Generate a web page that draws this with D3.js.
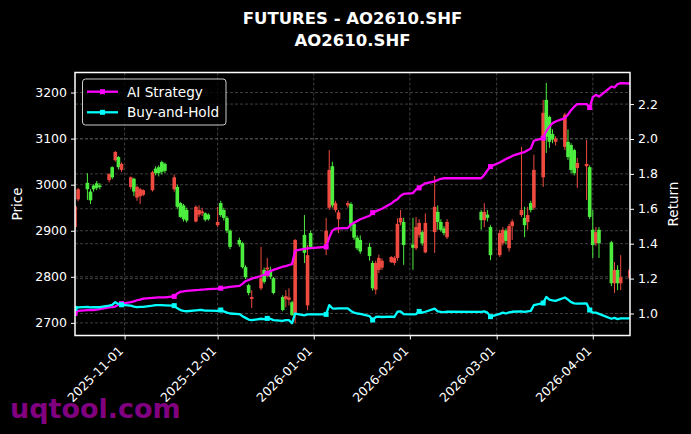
<!DOCTYPE html>
<html><head><meta charset="utf-8">
<script src="https://cdn.jsdelivr.net/npm/d3@7"></script>
<style>
html,body{margin:0;padding:0;background:#000;}
svg{display:block;}
text{font-family:"DejaVu Sans",sans-serif;}
</style></head><body>
<svg id="chart" width="691" height="434"></svg>
<script>
const dates = [
"2025-10-16","2025-10-17","2025-10-20","2025-10-21","2025-10-22","2025-10-23","2025-10-24","2025-10-27","2025-10-28","2025-10-29","2025-10-30","2025-10-31",
"2025-11-03","2025-11-04","2025-11-05","2025-11-06","2025-11-07","2025-11-10","2025-11-11","2025-11-12","2025-11-13","2025-11-14","2025-11-17","2025-11-18","2025-11-19","2025-11-20","2025-11-21","2025-11-24","2025-11-25","2025-11-26","2025-11-27","2025-11-28",
"2025-12-01","2025-12-02","2025-12-03","2025-12-04","2025-12-05","2025-12-08","2025-12-09","2025-12-10","2025-12-11","2025-12-12","2025-12-15","2025-12-16","2025-12-17","2025-12-18","2025-12-19","2025-12-22","2025-12-23","2025-12-24","2025-12-25","2025-12-26","2025-12-29","2025-12-30","2025-12-31",
"2026-01-05","2026-01-06","2026-01-07","2026-01-08","2026-01-09","2026-01-12","2026-01-13","2026-01-14","2026-01-15","2026-01-16","2026-01-19","2026-01-20","2026-01-21","2026-01-22","2026-01-23","2026-01-26","2026-01-27","2026-01-28","2026-01-29","2026-01-30",
"2026-02-02","2026-02-03","2026-02-04","2026-02-05","2026-02-06","2026-02-09","2026-02-10","2026-02-11","2026-02-12","2026-02-13","2026-02-24","2026-02-25","2026-02-26","2026-02-27",
"2026-03-02","2026-03-03","2026-03-04","2026-03-05","2026-03-06","2026-03-09","2026-03-10","2026-03-11","2026-03-12","2026-03-13","2026-03-16","2026-03-17","2026-03-18","2026-03-19","2026-03-20","2026-03-23","2026-03-24","2026-03-25","2026-03-26","2026-03-27","2026-03-30","2026-03-31",
"2026-04-01","2026-04-02","2026-04-03","2026-04-07","2026-04-08","2026-04-09","2026-04-10","2026-04-13"];

const openP = [
2908,2968,3004,2985,2998,3003,2998,3010,3038,3053,3060,3032,
2995,3013,2972,2975,2978,2988,3035,3038,3049,3045,2990,2995,2960,2955,2945,2920,2935,2938,2938,2935,
2912,2960,2945,2928,2900,2880,2873,2821,2782,2752,2775,2815,2816,2815,2797,2756,2752,2750,2745,2721,2891,2738,2895,
2860,2950,3040,2945,2925,2955,2958,2915,2885,2880,2865,2830,2772,2815,2820,2832,2830,2841,2918,2919,
2870,2862,2891,2897,2853,2897,2941,2919,2905,2886,2941,2923,2935,2908,
2847,2873,2900,2862,2910,2934,2928,2919,2960,2950,3016,3184,3147,3110,3093,3082,3093,3086,3075,3036,3040,3038,
2902,2873,2902,2875,2786,2815,2786,2797];
const highP = [
2956,2993,3025,2990,3001,3008,3003,3025,3040,3073,3062,3048,
3018,3015,2998,2993,2990,3030,3040,3042,3052,3048,3022,3000,2962,2958,2950,2955,2955,2950,2940,2938,
2952,2965,2950,2932,2903,2885,2876,2825,2785,2771,2865,2820,2841,2822,2800,2760,2771,2775,2748,2882,2934,2869,2900,
2928,3075,3050,2965,2945,2965,2962,2920,2890,2890,2873,2835,2835,2848,2840,2845,2845,2927,2945,2928,
2928,2930,2925,2900,2938,3019,2955,2925,2910,2925,2945,2960,2945,2912,
2902,2908,2905,2915,2925,3082,2952,2952,2965,3065,3184,3221,3150,3120,3105,3156,3120,3090,3078,3058,3097,3042,
2945,2908,2908,2878,2832,2825,2847,2820];
const lowP = [
2903,2964,2967,2958,2985,2988,2990,3005,3012,3050,3033,3028,
2990,2975,2965,2958,2975,2985,3020,3018,3022,3025,2985,2948,2928,2920,2918,2918,2930,2932,2920,2922,
2908,2930,2922,2895,2860,2865,2818,2795,2760,2732,2771,2785,2799,2795,2762,2725,2734,2738,2715,2699,2830,2728,2860,
2847,2945,2950,2940,2895,2950,2900,2880,2858,2850,2835,2770,2762,2808,2815,2830,2825,2835,2912,2826,
2815,2858,2885,2868,2851,2852,2902,2898,2890,2882,2902,2908,2920,2836,
2843,2868,2870,2855,2880,2930,2886,2902,2940,2945,2995,3069,3080,3090,3085,3075,3054,3025,3020,2993,2967,2925,
2841,2867,2841,2780,2765,2771,2771,2790];
const closeP = [
2953,2990,2990,2966,2990,2993,2995,3023,3016,3071,3038,3045,
3016,2985,2995,2990,2988,3027,3025,3025,3028,3030,3016,2952,2930,2925,2922,2952,2945,2942,2924,2925,
2919,2934,2928,2900,2865,2870,2821,2799,2765,2756,2797,2789,2820,2800,2765,2728,2758,2755,2717,2880,2852,2847,2865,
2900,3032,2955,2960,2940,2960,2912,2885,2862,2855,2845,2775,2830,2841,2835,2843,2841,2915,2928,2869,
2863,2908,2917,2873,2917,2952,2919,2902,2895,2919,2923,2941,2928,2847,
2895,2902,2878,2910,2920,2945,2912,2934,2945,3032,3156,3104,3093,3098,3100,3152,3060,3032,3025,3047,3045,2930,
2869,2897,2873,2786,2815,2786,2799,2815];

const aiStrategy = [
1.000,1.015,1.020,1.020,1.020,1.022,1.025,1.035,1.037,1.040,1.050,1.057,
1.065,1.070,1.076,1.080,1.085,1.090,1.091,1.092,1.092,1.093,1.098,1.115,1.124,1.127,1.130,1.134,1.135,1.137,1.138,1.140,
1.143,1.145,1.147,1.150,1.153,1.158,1.170,1.185,1.192,1.200,1.215,1.222,1.230,1.242,1.250,1.268,1.272,1.278,1.283,1.360,1.370,1.373,1.375,
1.382,1.435,1.475,1.486,1.488,1.490,1.510,1.520,1.530,1.540,1.560,1.578,1.585,1.593,1.600,1.630,1.645,1.655,1.675,1.685,
1.690,1.710,1.720,1.735,1.746,1.757,1.765,1.772,1.775,1.775,1.775,1.794,1.820,1.842,
1.865,1.875,1.885,1.893,1.903,1.920,1.925,1.935,1.945,1.990,2.005,2.045,2.070,2.090,2.100,2.120,2.140,2.165,2.185,2.200,2.200,2.180,
2.240,2.253,2.243,2.300,2.295,2.315,2.320,2.318];
const buyHold = [
1.029,1.035,1.038,1.035,1.036,1.037,1.036,1.045,1.050,1.065,1.055,1.050,
1.045,1.040,1.036,1.038,1.038,1.045,1.048,1.048,1.048,1.047,1.045,1.030,1.020,1.015,1.013,1.018,1.020,1.020,1.016,1.016,
1.015,1.020,1.012,1.005,1.000,0.997,0.985,0.975,0.965,0.962,0.970,0.968,0.972,0.970,0.962,0.958,0.962,0.962,0.944,1.000,0.990,0.995,0.995,
0.995,1.048,1.030,1.028,1.030,1.030,1.015,1.005,1.000,0.998,0.985,0.963,0.980,0.982,0.980,0.982,0.980,1.010,1.012,0.996,
0.995,0.997,1.012,1.005,1.010,1.028,1.012,1.009,1.008,1.010,1.009,1.012,1.005,0.982,
0.998,1.005,1.000,1.006,1.010,1.012,1.009,1.012,1.015,1.048,1.060,1.095,1.080,1.075,1.072,1.092,1.080,1.065,1.058,1.057,1.058,1.020,
1.005,1.005,0.998,0.970,0.975,0.968,0.972,0.972];

const priceTicks = [2700, 2800, 2900, 3000, 3100, 3200];
const returnTicks = [1.0, 1.2, 1.4, 1.6, 1.8, 2.0, 2.2];
const dateTicks = ["2025-11-01","2025-12-01","2026-01-01","2026-02-01","2026-03-01","2026-04-01"];
const titleLines = ["FUTURES - AO2610.SHF", "AO2610.SHF"];
const seriesNames = ["AI Strategy", "Buy-and-Hold"];
const watermark = "uqtool.com";

const W = 691, H = 434;
const m = {l: 75, r: 630, t: 72.5, b: 335.5};
const parse = d3.utcParse("%Y-%m-%d");
const dts = dates.map(parse);

const x = d3.scaleUtc().domain([dts[0], dts[dts.length - 1]]).range([m.l, m.r]);
const yP = d3.scaleLinear().domain([2672.6, 3243.5]).range([m.b, m.t]);
const yR = d3.scaleLinear().domain([0.874, 2.381]).range([m.b, m.t]);

const svg = d3.select("#chart");
svg.append("rect").attr("width", W).attr("height", H).attr("fill", "#000");

svg.append("defs").append("clipPath").attr("id", "clip")
  .append("rect").attr("x", m.l).attr("y", m.t).attr("width", m.r - m.l).attr("height", m.b - m.t);

// grid
const grid = svg.append("g").attr("stroke", "#5a5a5a").attr("stroke-width", 0.7).attr("stroke-dasharray", "3,2");
priceTicks.forEach(v => grid.append("line").attr("x1", m.l).attr("x2", m.r).attr("y1", yP(v)).attr("y2", yP(v)));
returnTicks.forEach(v => grid.append("line").attr("x1", m.l).attr("x2", m.r).attr("y1", yR(v)).attr("y2", yR(v)));
dateTicks.forEach(d => grid.append("line").attr("y1", m.t).attr("y2", m.b).attr("x1", x(parse(d))).attr("x2", x(parse(d))));

// candles
const upC = "#ef4a40", dnC = "#4ded3f";
const candles = svg.append("g").attr("clip-path", "url(#clip)");
const bw = 3.6;
dts.forEach((d, i) => {
  const o = openP[i], c = closeP[i], h = highP[i], l = lowP[i];
  const col = c >= o ? upC : dnC;
  const cx = x(d);
  candles.append("line").attr("x1", cx).attr("x2", cx).attr("y1", yP(h)).attr("y2", yP(l))
    .attr("stroke", col).attr("stroke-width", 1);
  const y1 = yP(Math.max(o, c)), y2 = yP(Math.min(o, c));
  candles.append("rect").attr("x", cx - bw / 2).attr("y", y1).attr("width", bw)
    .attr("height", Math.max(1, y2 - y1)).attr("fill", col);
});

// lines
const lines = svg.append("g").attr("clip-path", "url(#clip)");
const series = [{name: seriesNames[0], vals: aiStrategy, color: "#ff00ff"},
                {name: seriesNames[1], vals: buyHold, color: "#00ffff"}];
series.forEach(s => {
  const ln = d3.line().x((v, i) => x(dts[i])).y(v => yR(v));
  lines.append("path").attr("d", ln(s.vals)).attr("fill", "none").attr("stroke", s.color)
    .attr("stroke-width", 2.3).attr("stroke-linejoin", "round");
  s.vals.forEach((v, i) => {
    if (i % 11 === 0) lines.append("rect").attr("x", x(dts[i]) - 2.5).attr("y", yR(v) - 2.5)
      .attr("width", 5).attr("height", 5).attr("fill", s.color);
  });
});

// axes
function styleAxis(g) {
  g.select(".domain").remove();
  g.selectAll(".tick line").attr("stroke", "#fff").attr("stroke-width", 1);
  g.selectAll(".tick text").attr("fill", "#fff").style("font-size", "12.5px").style("font-family", "DejaVu Sans");
}
svg.append("g").attr("transform", `translate(${m.l},0)`)
  .call(d3.axisLeft(yP).tickValues(priceTicks).tickSize(4).tickPadding(4).tickFormat(d3.format("d")))
  .call(styleAxis);
svg.append("g").attr("transform", `translate(${m.r},0)`)
  .call(d3.axisRight(yR).tickValues(returnTicks).tickSize(4).tickPadding(4).tickFormat(d3.format(".1f")))
  .call(styleAxis);
const xa = svg.append("g").attr("transform", `translate(0,${m.b})`)
  .call(d3.axisBottom(x).tickValues(dateTicks.map(parse)).tickSize(4).tickFormat(d3.utcFormat("%Y-%m-%d")))
  .call(styleAxis);
xa.selectAll(".tick text").attr("x", 0).attr("y", 0).attr("dy", 0)
  .attr("text-anchor", "end").attr("transform", "translate(-1,16) rotate(-45)");

// frame
svg.append("rect").attr("x", m.l).attr("y", m.t).attr("width", m.r - m.l).attr("height", m.b - m.t)
  .attr("fill", "none").attr("stroke", "#fff").attr("stroke-width", 1.5);

// axis labels
svg.append("text").attr("transform", `translate(22,${(m.t + m.b) / 2}) rotate(-90)`)
  .attr("text-anchor", "middle").attr("fill", "#fff").style("font-size", "13.5px").text("Price");
svg.append("text").attr("transform", `translate(678,${(m.t + m.b) / 2}) rotate(-90)`)
  .attr("text-anchor", "middle").attr("fill", "#fff").style("font-size", "13.5px").text("Return");

// title
titleLines.forEach((t, i) => {
  svg.append("text").attr("x", (m.l + m.r) / 2).attr("y", 24 + i * 21.5).attr("text-anchor", "middle")
    .attr("fill", "#fff").style("font-size", "16.5px").style("font-weight", "bold").text(t);
});

// legend
const lg = svg.append("g");
lg.append("rect").attr("x", 82.5).attr("y", 79).attr("width", 143.5).attr("height", 46).attr("rx", 3)
  .attr("fill", "#000").attr("fill-opacity", 0.8).attr("stroke", "#cccccc").attr("stroke-width", 1);
series.forEach((s, i) => {
  const yy = 91.7 + i * 20.6;
  lg.append("line").attr("x1", 87).attr("x2", 118).attr("y1", yy).attr("y2", yy)
    .attr("stroke", s.color).attr("stroke-width", 2.3);
  lg.append("rect").attr("x", 102.5 - 2.5).attr("y", yy - 2.5).attr("width", 5).attr("height", 5).attr("fill", s.color);
  lg.append("text").attr("x", 127).attr("y", yy + 5).attr("fill", "#fff").style("font-size", "13.6px").text(s.name);
});

// watermark
svg.append("text").attr("x", 10).attr("y", 418).attr("fill", "#800080")
  .style("font-size", "27px").style("font-weight", "bold").text(watermark);
</script>
</body></html>
